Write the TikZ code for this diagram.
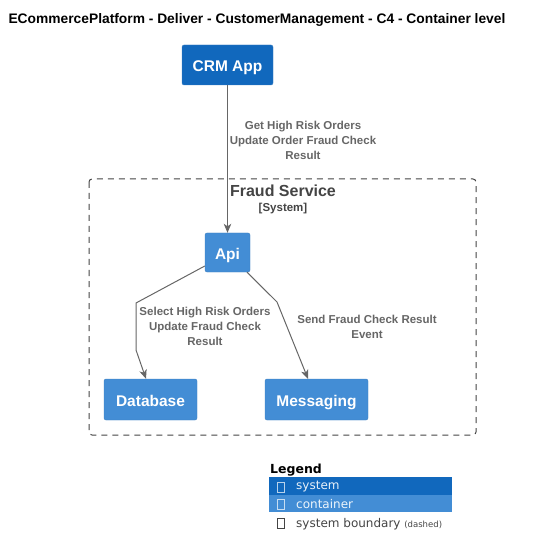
\documentclass[tikz,border=0pt]{standalone}
\usepackage{fontspec}
\setmainfont{Liberation Sans}
\newfontfamily\legfont{DejaVu Sans}
\usetikzlibrary{arrows.meta}
\definecolor{sysblue}{HTML}{1168BD}
\definecolor{sysborder}{HTML}{3C7FC0}
\definecolor{conblue}{HTML}{438DD5}
\definecolor{conborder}{HTML}{3C7FC0}
\definecolor{relgray}{HTML}{666666}
\definecolor{bndgray}{HTML}{444444}
\tikzset{
  sysbox/.style={draw=sysborder, fill=sysblue, rounded corners=2pt, text=white, font=\fontsize{15.5}{18}\selectfont\bfseries, inner sep=0pt, text height=13pt, text depth=0pt},
  conbox/.style={draw=conborder, fill=conblue, rounded corners=2pt, text=white, font=\fontsize{15.5}{18}\selectfont\bfseries, inner sep=0pt, text height=13pt, text depth=0pt},
  rel/.style={draw=relgray, line width=1pt, -{Stealth[length=9pt,width=7.5pt,inset=2.5pt]}},
  rellabel/.style={text=relgray, font=\fontsize{11.5}{15}\selectfont\bfseries, align=center, inner sep=0pt},
  boundary/.style={draw=bndgray, dashed, dash pattern=on 6pt off 5pt, line width=1pt, rounded corners=3pt},
  legrow/.style={inner sep=0pt, minimum height=17.5pt, minimum width=183pt},
  tofu/.style={draw, line width=0.5pt, minimum width=7pt, minimum height=10pt, inner sep=0pt}
}
\begin{document}
\begin{tikzpicture}[x=1pt,y=-1pt]
\useasboundingbox (0,0) rectangle (557,556);
% title
\node[font=\fontsize{13.8}{16}\selectfont\bfseries, inner sep=0pt] (title) at (257,20) {ECommercePlatform - Deliver - CustomerManagement - C4 - Container level};
% boundary
\draw[boundary] (89,179) rectangle (476,435);
\node[text=bndgray, font=\fontsize{16}{18}\selectfont\bfseries, inner sep=0pt] (bname) at (283,191) {Fraud Service};
\node[text=bndgray, font=\fontsize{11.5}{14}\selectfont\bfseries, inner sep=0pt] (btype) at (283,209) {[System]};
% nodes
\node[sysbox, minimum width=91pt, minimum height=40pt] (crm) at (227.5,65) {CRM App};
\node[conbox, minimum width=45pt, minimum height=39pt] (api) at (227.5,252.5) {Api};
\node[conbox, minimum width=93pt, minimum height=41pt] (db) at (150.5,399.5) {Database};
\node[conbox, minimum width=103pt, minimum height=41pt] (msg) at (316.5,399.5) {Messaging};
% relations
\coordinate (apy) at (0,266);
\coordinate (dbA) at (136,303);
\coordinate (dbB) at (136,350);
\coordinate (dbx) at (146,0);
\coordinate (msx) at (247,0);
\coordinate (msA) at (277,302);
\coordinate (msy) at (308,0);
\draw[rel] (crm.south) -- (api.north);
\draw[rel] (api.west |- apy) -- (dbA) -- (dbB) -- (db.north -| dbx);
\draw[rel] (api.south -| msx) -- (msA) -- (msg.north -| msy);
\node[rellabel] (l1) at (303,140) {Get High Risk Orders\\Update Order Fraud Check\\Result};
\node[rellabel] (l2) at (205,326) {Select High Risk Orders\\Update Fraud Check\\Result};
\node[rellabel] (l3) at (367,327) {Send Fraud Check Result\\Event};
% legend
\node[font=\legfont\fontsize{12.5}{14}\selectfont\bfseries, anchor=west, inner sep=0pt] (legt) at (270,470) {Legend};
\node[legrow, fill=sysblue, anchor=north west] (lsys) at (269,477) {};
\node[legrow, fill=conblue, anchor=north west] (lcon) at (269,494.5) {};
\node[tofu, draw=white!70!sysblue] (t1) at (281,487) {};
\node[tofu, draw=white!70!conblue] (t2) at (281,504) {};
\node[tofu, draw=bndgray] (t3) at (281,523) {};
\node[font=\legfont\fontsize{12}{14}\selectfont, text=white!90!sysblue, anchor=west, inner sep=0pt] (ls) at (296,487) {system};
\node[font=\legfont\fontsize{12}{14}\selectfont, text=white!90!conblue, anchor=west, inner sep=0pt] (lc) at (296,504) {container};
\node[font=\legfont\fontsize{12}{14}\selectfont, text=bndgray, anchor=base west, inner sep=0pt] (lb) at (296,527) {system boundary \fontsize{8.5}{10}\selectfont(dashed)};
\end{tikzpicture}
\end{document}
